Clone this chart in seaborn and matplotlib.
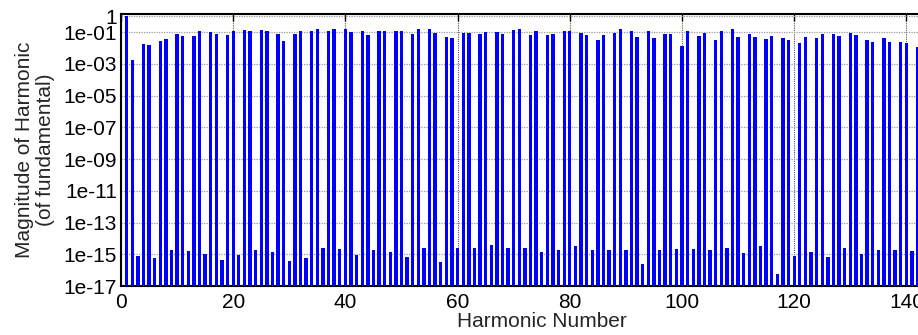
import numpy as np
import pandas as pd
import matplotlib
matplotlib.use("Agg")
import matplotlib.pyplot as plt
import seaborn as sns

# ---- data ----
harmonics = list(range(1, 143))
magnitude = [
    1.0, 1.82e-3, 7.8e-16, 0.0178, 0.0158, 5.8e-16, 0.0257, 0.0380, 1.9e-15, 0.0794,
    0.0537, 1.6e-15, 0.0589, 0.110, 1.0e-15, 0.105, 0.0708, 4.4e-16, 0.0617, 0.110,
    9.3e-16, 0.141, 0.123, 1.9e-15, 0.141, 0.110, 1.3e-15, 0.0794, 0.0257, 3.7e-16,
    0.0708, 0.110, 6.0e-16, 0.123, 0.155, 2.5e-15, 0.110, 0.162, 2.1e-15, 0.162,
    0.0955, 8.9e-16, 0.110, 0.0617, 1.9e-15, 0.110, 0.123, 1.4e-15, 0.123, 0.123,
    7.1e-16, 0.0794, 0.162, 2.5e-15, 0.155, 0.0871, 3.2e-16, 0.0457, 0.0417, 2.6e-15,
    0.0871, 0.0912, 2.6e-15, 0.0708, 0.105, 4.0e-15, 0.105, 0.0794, 2.6e-15, 0.141,
    0.162, 2.6e-15, 0.0676, 0.110, 1.3e-15, 0.0617, 0.0759, 1.9e-15, 0.123, 0.110,
    3.3e-15, 0.0871, 0.0676, 1.9e-15, 0.0331, 0.0617, 1.9e-15, 0.0871, 0.162, 1.9e-15,
    0.110, 0.0457, 2.4e-16, 0.123, 0.0417, 1.9e-15, 0.0759, 0.0759, 2.1e-15, 0.0138,
    0.123, 2.1e-15, 0.0562, 0.0912, 1.9e-15, 0.0295, 0.110, 2.5e-15, 0.155, 0.0513,
    1.15e-15, 0.0813, 0.0513, 3.3e-15, 0.0363, 0.0562, 5.4e-17, 0.0437, 0.0295, 8.1e-16,
    0.0204, 0.0513, 1.4e-15, 0.0437, 0.0708, 7.1e-16, 0.0813, 0.0562, 2.6e-15, 0.0912,
    0.0676, 1.0e-15, 0.0295, 0.0245, 1.9e-15, 0.0398, 0.0224, 1.9e-15, 0.0245, 0.0214,
    1.6e-15, 0.0120,
]
ytick_values = [1e-17, 1e-15, 1e-13, 1e-11, 1e-9, 1e-7, 1e-5, 1e-3, 1e-1, 1]
ytick_labels = ["1e-17", "1e-15", "1e-13", "1e-11", "1e-09", "1e-07",
                "1e-05", "1e-03", "1e-01", "1"]
xtick_values = [0, 20, 40, 60, 80, 100, 120, 140]

df = pd.DataFrame({"harmonic": harmonics, "magnitude": magnitude})

sns.set_style("white")
plt.rcParams["font.family"] = ["Liberation Sans", "DejaVu Sans"]
plt.rcParams["font.size"] = 15

fig = plt.figure(figsize=(9.18, 3.35), dpi=100)
# axes extends beyond the right edge (reference is cropped)
ax = fig.add_axes([121 / 918, 49 / 335, 841.5 / 918, 271.7 / 335])
ax.set_yscale("log")

sns.barplot(data=df, x="harmonic", y="magnitude", native_scale=True,
            color="#0000ff", saturation=1, width=0.6, linewidth=0,
            errorbar=None, ax=ax, zorder=3)

ax.set_xlim(0, 150)
ax.set_ylim(1e-17, 1.32)
ax.set_yticks(ytick_values)
ax.set_yticklabels(ytick_labels)
ax.yaxis.set_minor_locator(matplotlib.ticker.NullLocator())
ax.set_xticks(xtick_values)
ax.set_xticklabels([str(v) for v in xtick_values])

ax.grid(True, which="major", axis="y", color="#9a9a9a", linestyle=(0, (1, 1)), linewidth=0.9, zorder=0)
ax.grid(True, which="major", axis="x", color="#555555", linestyle=(0, (1, 1)), linewidth=0.8, zorder=0)
ax.set_axisbelow(True)

for s in ax.spines.values():
    s.set_visible(True)
    s.set_color("black")
    s.set_linewidth(1.5)

ax.tick_params(axis="both", which="major", direction="in", length=5, width=1,
               colors="black", labelsize=15, top=True, right=True)
ax.tick_params(axis="x", pad=5)
ax.tick_params(axis="y", pad=3)

ax.set_xlabel("Harmonic Number", fontsize=15, labelpad=0)
ax.set_ylabel("Magnitude of Harmonic\n(of fundamental)", fontsize=15,
              linespacing=1.12, labelpad=6)

fig.savefig("out.png", dpi=100)
